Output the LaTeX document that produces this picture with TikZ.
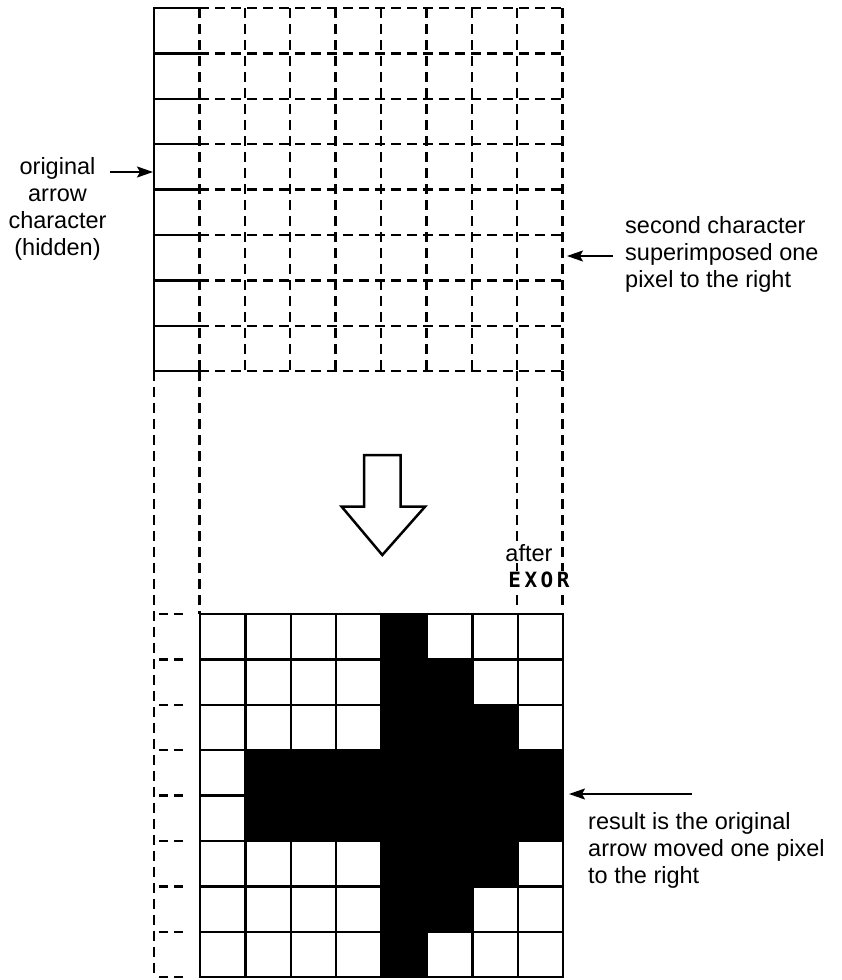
\documentclass[tikz,border=0pt]{standalone}
\usepackage{fontspec}
\setmainfont{Liberation Sans}
\newfontfamily\exorfont{DejaVu Sans Mono}
\usetikzlibrary{arrows.meta}
\begin{document}
\begin{tikzpicture}[x=1pt,y=-1pt,
  solidline/.style={line width=2.5pt, line cap=rect},
  dashline/.style={line width=2.5pt, dash pattern=on 10pt off 6pt},
  lbl/.style={font=\fontsize{23.5}{27}\selectfont, inner sep=0pt},
  pointer/.style={line width=1.8pt, -{Stealth[length=16pt,width=11pt,inset=3pt]}},
  bigarrow/.style={line width=2.5pt, line join=miter, fill=white}
]
\useasboundingbox[fill=white] (0,0) rectangle (842,980);
\def\cellw{45.4}
% ---------- top: original (hidden) character, visible left column ----------
\draw[solidline] ({154+\cellw},8) -- (154,8) -- (154,{8+8*\cellw}) -- ({154+\cellw},{8+8*\cellw});
\foreach \k in {1,...,7}
  \draw[solidline] (154,{8+\k*\cellw}) -- ({154+\cellw},{8+\k*\cellw});
% ---------- top: second character, dashed grid ----------
\foreach \k in {0,...,8}
  \draw[dashline] ({154+\cellw},{8+\k*\cellw}) -- ({154+9*\cellw},{8+\k*\cellw});
\foreach \j in {1,...,9}
  \draw[dashline] ({154+\j*\cellw},8) -- ({154+\j*\cellw},{8+8*\cellw});
% ---------- dashed guides between the grids ----------
\draw[dashline] (154,{8+8*\cellw}) -- (154,978);
\draw[dashline] ({154+\cellw},{8+8*\cellw}) -- ({154+\cellw},614);
\draw[dashline] ({154+8*\cellw},{8+8*\cellw}) -- ({154+8*\cellw},605);
\draw[dashline] ({154+9*\cellw},{8+8*\cellw}) -- ({154+9*\cellw},605);
\foreach \k in {0,...,8}
  \draw[dashline, dash pattern=on 9pt off 6pt] (159,{614+\k*\cellw}) -- (186,{614+\k*\cellw});
% ---------- bottom: result grid ----------
\begin{scope}[shift={(200,614)}, x=\cellw pt, y=-\cellw pt]
  \fill[black] (4,0) -- (5,0) -- (5,1) -- (6,1) -- (6,2) -- (7,2) -- (7,3) -- (8,3)
    -- (8,5) -- (7,5) -- (7,6) -- (6,6) -- (6,7) -- (5,7) -- (5,8) -- (4,8)
    -- (4,5) -- (1,5) -- (1,3) -- (4,3) -- cycle;
  \foreach \k in {0,...,8} {
    \draw[solidline] (0,\k) -- (8,\k);
    \draw[solidline] (\k,0) -- (\k,8);
  }
\end{scope}
% ---------- big hollow arrow ----------
\draw[bigarrow] (364,455) -- (400.7,455) -- (400.7,506.7) -- (425,506.7)
  -- (382.3,555) -- (341.7,506.7) -- (364,506.7) -- cycle;
% ---------- labels ----------
\node[lbl, align=center] (orig) at (57.5,209) {original\\arrow\\character\\(hidden)};
\coordinate (origtail) at (110,172);
\coordinate (origtip) at (153,172);
\draw[pointer] (origtail) -- (origtip);

\node[lbl, align=left, anchor=west] (second) at (625,254) {second character\\superimposed one\\pixel to the right};
\coordinate (sectail) at (613,256);
\coordinate (sectip) at (567,256);
\draw[pointer] (sectail) -- (sectip);

\node[lbl, align=left, anchor=west] (result) at (588,850) {result is the original\\arrow moved one pixel\\to the right};
\coordinate (restail) at (692,794);
\coordinate (restip) at (569,794);
\draw[pointer] (restail) -- (restip);

\node[lbl, fill=white, inner sep=1pt] (after) at (529,553) {after};
\node[font=\exorfont\bfseries\fontsize{21}{24}\selectfont, fill=white, inner sep=1pt] (exor) at (539,580) {E\hspace{3.5pt}X\hspace{3.5pt}O\hspace{3.5pt}R};
\end{tikzpicture}
\end{document}
